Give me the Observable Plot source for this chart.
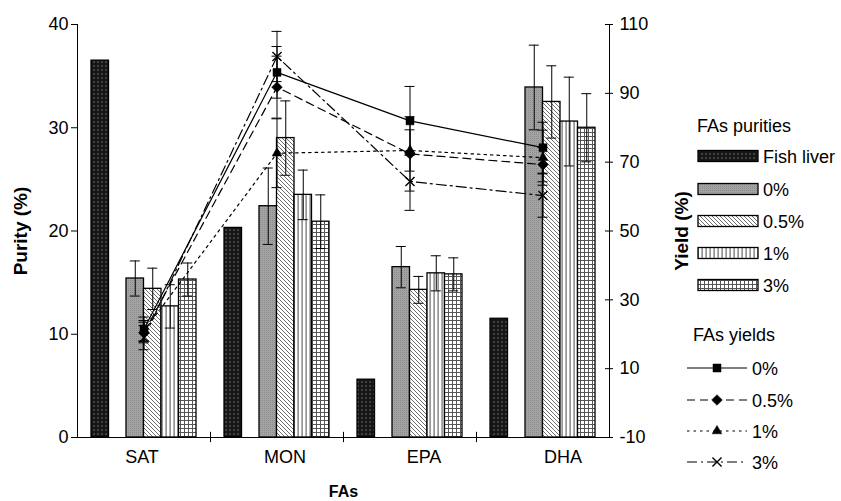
<!DOCTYPE html>
<html><head><meta charset="utf-8">
<script src="https://cdn.jsdelivr.net/npm/d3@7"></script>
<script src="https://cdn.jsdelivr.net/npm/@observablehq/plot@0.6"></script>
<style>
html,body{margin:0;padding:0;background:#fff;}
#wrap{position:relative;width:841px;height:501px;font-family:"Liberation Sans",Arial,sans-serif;}
#chart{position:absolute;left:0;top:0;}
#legend{position:absolute;left:684px;top:0;}
</style></head><body>
<svg width="0" height="0" style="position:absolute">
<defs>
 <pattern id="pat-fish" width="4" height="4" patternUnits="userSpaceOnUse">
   <rect width="4" height="4" fill="#161616"/>
   <rect x="1.4" y="1.4" width="1.3" height="1.3" fill="#7a7a7a"/>
 </pattern>
 <pattern id="pat-0" width="2" height="2" patternUnits="userSpaceOnUse">
   <rect width="2" height="2" fill="#a3a3a3"/>
   <rect width="1" height="1" fill="#8c8c8c"/>
 </pattern>
 <pattern id="pat-05" width="4" height="4" patternUnits="userSpaceOnUse">
   <rect width="4" height="4" fill="#fff"/>
   <path d="M-1,-1 L5,5 M-1,3 L1,5 M3,-1 L5,1" stroke="#6e6e6e" stroke-width="1"/>
 </pattern>
 <pattern id="pat-1" width="4" height="4" patternUnits="userSpaceOnUse">
   <rect width="4" height="4" fill="#fff"/>
   <rect x="1.5" width="1.2" height="4" fill="#6a6a6a"/>
 </pattern>
 <pattern id="pat-3" width="4" height="4" patternUnits="userSpaceOnUse">
   <rect width="4" height="4" fill="#fff"/>
   <rect width="4" height="1" fill="#555"/>
   <rect width="1" height="4" fill="#555"/>
 </pattern>
</defs></svg>
<div id="wrap"><div id="chart"></div><div id="legend"></div></div>
<script>
// ---------- data ----------
const categories = ["SAT", "MON", "EPA", "DHA"];
const puritySeries = ["Fish liver", "0%", "0.5%", "1%", "3%"];
const yieldSeries = ["0%", "0.5%", "1%", "3%"];

const purityFishLiver = [36.5, 20.3, 5.6, 11.5];
const purity0  = [15.4, 22.4, 16.5, 33.9];
const purity05 = [14.4, 29.0, 14.3, 32.5];
const purity1  = [12.7, 23.5, 15.9, 30.6];
const purity3  = [15.3, 20.9, 15.8, 30.0];
const purityErr0  = [1.7, 3.7, 2.0, 4.1];
const purityErr05 = [2.0, 3.6, 1.3, 3.5];
const purityErr1  = [2.1, 2.4, 1.7, 4.3];
const purityErr3  = [1.6, 2.6, 1.6, 3.3];

const yield0  = [21.5, 96.1, 82.0, 74.2];
const yield05 = [20.5, 91.8, 72.4, 69.3];
const yield1  = [21.0, 72.6, 73.4, 71.3];
const yield3  = [19.0, 100.7, 64.4, 60.3];
const yieldErr0  = [3.5, 7.5, 10.0, 7.4];
const yieldErr05 = [3.0, 9.0, 10.8, 5.0];
const yieldErr1  = [3.0, 10.0, 6.0, 8.0];
const yieldErr3  = [3.5, 7.3, 8.4, 6.3];

const purityTicks = [0, 10, 20, 30, 40];
const yieldTicks = [-10, 10, 30, 50, 70, 90, 110];

// ---------- layout / styles ----------
const W = 684, H = 501, axL = 77, axR = 609, mT = 24, mB = 64;
const band = (axR - axL) / categories.length;
const slotW = 17.5;
const groupPad = (band - 6 * slotW) / 2;
const labelShift = [-2, 8, 14, 20];
const font = "Liberation Sans, Arial, sans-serif";
const tickFont = 18;
const toP = v => (v + 10) / 3; // yield (-10..110) -> purity axis (0..40)

const rows = (vals, errs) => categories.map((c, i) => ({cat: c, v: vals[i], e: errs ? errs[i] : 0}));

const barDefs = [
  {name: puritySeries[0], data: rows(purityFishLiver), slot: 0, fill: "url(#pat-fish)", err: false},
  {name: puritySeries[1], data: rows(purity0, purityErr0), slot: 2, fill: "url(#pat-0)", err: true},
  {name: puritySeries[2], data: rows(purity05, purityErr05), slot: 3, fill: "url(#pat-05)", err: true},
  {name: puritySeries[3], data: rows(purity1, purityErr1), slot: 4, fill: "url(#pat-1)", err: true},
  {name: puritySeries[4], data: rows(purity3, purityErr3), slot: 5, fill: "url(#pat-3)", err: true}
];
const lineDefs = [
  {name: yieldSeries[0], data: rows(yield0, yieldErr0), dash: null, symbol: "square", r: 4.5, fill: "black"},
  {name: yieldSeries[1], data: rows(yield05, yieldErr05), dash: "8,5", symbol: "diamond2", r: 4.8, fill: "black"},
  {name: yieldSeries[2], data: rows(yield1, yieldErr1), dash: "2.5,4", symbol: "triangle", r: 3.6, fill: "black"},
  {name: yieldSeries[3], data: rows(yield3, yieldErr3), dash: "10,4,2,4", symbol: "times", r: 4.2, fill: "none"}
];

const marks = [];
// bars + error bars
for (const b of barDefs) {
  marks.push(Plot.barY(b.data, {
    x: "cat", y: "v", fill: b.fill, stroke: "black", strokeWidth: 1.3,
    insetLeft: groupPad + b.slot * slotW, insetRight: band - groupPad - (b.slot + 1) * slotW
  }));
}
for (const b of barDefs) {
  if (!b.err) continue;
  const dx = (b.slot - 2.5) * slotW;
  marks.push(Plot.ruleX(b.data, {x: "cat", y1: d => d.v - d.e, y2: d => d.v + d.e, dx, stroke: "black", strokeWidth: 1}));
  for (const f of [d => d.v - d.e, d => d.v + d.e]) {
    marks.push(Plot.tickY(b.data, {x: "cat", y: f, dx, insetLeft: band / 2 - 5, insetRight: band / 2 - 5, stroke: "black", strokeWidth: 1}));
  }
}
// yield error bars
for (const l of lineDefs) {
  marks.push(Plot.ruleX(l.data, {x: "cat", y1: d => toP(d.v - d.e), y2: d => toP(d.v + d.e), stroke: "black", strokeWidth: 1}));
  for (const f of [d => toP(d.v - d.e), d => toP(d.v + d.e)]) {
    marks.push(Plot.tickY(l.data, {x: "cat", y: f, insetLeft: band / 2 - 5, insetRight: band / 2 - 5, stroke: "black", strokeWidth: 1}));
  }
}
// yield lines + markers
for (const l of lineDefs) {
  marks.push(Plot.line(l.data, {x: "cat", y: d => toP(d.v), stroke: "black", strokeWidth: 1.2, strokeDasharray: l.dash}));
}
for (const l of lineDefs) {
  marks.push(Plot.dot(l.data, {x: "cat", y: d => toP(d.v), symbol: l.symbol, r: l.r, fill: l.fill, stroke: "black", strokeWidth: l.fill === "none" ? 1.4 : 0.5}));
}
// axis frame
marks.push(Plot.ruleY([0], {stroke: "black", strokeWidth: 1}));
marks.push(Plot.ruleX([categories[0]], {dx: -band / 2, y1: 0, y2: 40, stroke: "black", strokeWidth: 1}));
marks.push(Plot.ruleX([categories[categories.length - 1]], {dx: band / 2, y1: 0, y2: 40, stroke: "black", strokeWidth: 1}));
// category boundary ticks
marks.push(Plot.ruleX(categories.slice(1), {dx: -band / 2, y1: -0.5, y2: 0.5, stroke: "black", strokeWidth: 1}));
// right axis crossing ticks
marks.push(Plot.tickY(yieldTicks, {x: () => categories[categories.length - 1], y: d => toP(d), dx: band / 2,
  insetLeft: band / 2 - 4, insetRight: band / 2 - 4, stroke: "black", strokeWidth: 1}));
// axes
marks.push(Plot.axisY({anchor: "left", ticks: purityTicks, tickSize: 6, tickPadding: 3, label: null, fontSize: tickFont}));
marks.push(Plot.axisY({anchor: "left", ticks: [], label: "Purity (%)", labelArrow: "none", labelAnchor: "center", labelOffset: 64, fontSize: 19, fontWeight: "bold"}));
marks.push(Plot.axisY({anchor: "right", ticks: yieldTicks.map(toP), tickFormat: (d, i) => String(yieldTicks[i]), tickSize: 0, tickPadding: 10, label: null, fontSize: tickFont}));
marks.push(Plot.axisY({anchor: "right", ticks: [], label: "Yield (%)", labelArrow: "none", labelAnchor: "center", labelOffset: 78, fontSize: 19, fontWeight: "bold"}));
categories.forEach((c, i) => {
  marks.push(Plot.axisX({ticks: [c], tickSize: 0, tickPadding: 13, label: null, fontSize: tickFont, dx: labelShift[i]}));
});
marks.push(Plot.axisX({ticks: [], label: "FAs", labelArrow: "none", labelAnchor: "center", labelOffset: 59, fontSize: 16, fontWeight: "bold"}));

const chart = Plot.plot({
  width: W, height: H,
  marginLeft: axL, marginRight: W - axR, marginTop: mT, marginBottom: mB,
  x: {domain: categories, padding: 0, round: false, axis: null},
  y: {domain: [0, 40], axis: null},
  style: {fontFamily: font, fontSize: "15px", color: "black", background: "white", overflow: "visible"},
  marks
});
document.getElementById("chart").appendChild(chart);

// ---------- legend ----------
const lg = d3.select("#legend").append("svg").attr("width", 157).attr("height", 501)
  .style("font-family", font).style("font-size", "18px");
lg.append("text").attr("x", 13).attr("y", 132).text("FAs purities");
const pRowY = [156, 189, 221, 253, 285];
barDefs.forEach((b, i) => {
  lg.append("rect").attr("x", 14).attr("y", pRowY[i] - 5.5).attr("width", 60).attr("height", 11)
    .attr("fill", b.fill).attr("stroke", "black").attr("stroke-width", 1.3);
  lg.append("text").attr("x", 79).attr("y", pRowY[i] + 6.5).text(b.name);
});
lg.append("text").attr("x", 9).attr("y", 341).text("FAs yields");
const yRowY = [368, 400, 431, 462];
lineDefs.forEach((l, i) => {
  lg.append("line").attr("x1", 3).attr("x2", 63).attr("y1", yRowY[i]).attr("y2", yRowY[i])
    .attr("stroke", "black").attr("stroke-width", 1.2).attr("stroke-dasharray", l.dash);
  const sym = {square: d3.symbolSquare, diamond2: d3.symbolDiamond2, triangle: d3.symbolTriangle, times: d3.symbolTimes}[l.symbol];
  lg.append("path").attr("transform", `translate(33,${yRowY[i]})`)
    .attr("d", d3.symbol(sym, l.r * l.r * Math.PI)())
    .attr("fill", l.fill).attr("stroke", "black").attr("stroke-width", l.fill === "none" ? 1.4 : 0.5);
  lg.append("text").attr("x", 68).attr("y", yRowY[i] + 6.5).text(l.name);
});
</script>
</body></html>
